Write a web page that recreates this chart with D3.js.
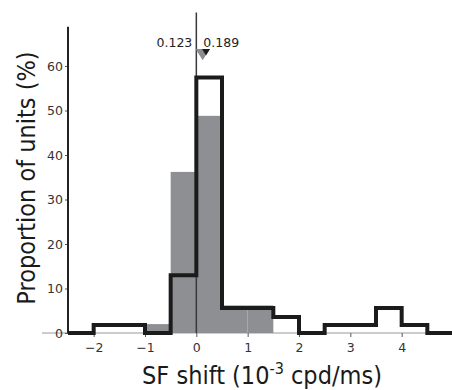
<!DOCTYPE html>
<html>
<head>
<meta charset="utf-8">
<script src="https://cdn.jsdelivr.net/npm/d3@7"></script>
<style>
  body { margin: 0; background: #fff; }
  svg { display: block; }
  text { font-family: "DejaVu Sans", sans-serif; }
  .title { font-family: "DejaVu Sans Condensed", "DejaVu Sans", sans-serif; }
</style>
</head>
<body>
<svg id="chart" width="452" height="390"></svg>
<script>
// bin edges of the SF shift histogram (10^-3 cpd/ms)
const binEdges = [-2.5, -2, -1.5, -1, -0.5, 0, 0.5, 1, 1.5, 2, 2.5, 3, 3.5, 4, 4.5, 5];
// proportion of units (%) per bin
const outlineValues = [0, 1.8, 1.8, 0, 13, 57.4, 5.6, 5.6, 3.6, 0, 1.8, 1.8, 5.6, 1.8, 0];
const filledValues = [0, 0, 0, 2, 36.2, 48.8, 6.2, 6.2, 0, 0, 0, 0, 0, 0, 0];
const xTicks = [-2, -1, 0, 1, 2, 3, 4];
const yTicks = [0, 10, 20, 30, 40, 50, 60];
// medians marked above the plot
const medians = [
  { value: 0.123, label: '0.123', color: '#8c8d90', size: 14, anchor: 'end' },
  { value: 0.189, label: '0.189', color: '#1c1c1c', size: 8, anchor: 'start' },
];

const svg = d3.select('#chart');

const x = d3.scaleLinear().domain([-2.5, 5]).range([68, 453]);
const y = d3.scaleLinear().domain([0, 60]).range([333, 66]);

const bins = outlineValues.map((v, i) => ({
  x0: binEdges[i],
  x1: binEdges[i + 1],
  outline: v,
  filled: filledValues[i],
}));

// x axis line (thin, runs under the outline)
svg
  .append('line')
  .attr('x1', 42)
  .attr('x2', 452)
  .attr('y1', y(0))
  .attr('y2', y(0))
  .attr('stroke', '#9a9a9a')
  .attr('stroke-width', 1.2);

// filled histogram
svg
  .append('g')
  .selectAll('rect')
  .data(bins.filter((b) => b.filled > 0))
  .enter()
  .append('rect')
  .attr('x', (b) => x(b.x0))
  .attr('width', (b) => x(b.x1) - x(b.x0))
  .attr('y', (b) => y(b.filled))
  .attr('height', (b) => y(0) - y(b.filled))
  .attr('fill', '#8e8f92');

// zero line
svg
  .append('line')
  .attr('x1', x(0))
  .attr('x2', x(0))
  .attr('y1', y(72))
  .attr('y2', y(0))
  .attr('stroke', '#3a3a3a')
  .attr('stroke-width', 1.5);

// y axis
const yAxis = svg
  .append('g')
  .attr('transform', `translate(${x(-2.5)},0)`)
  .call(d3.axisLeft(y).tickValues(yTicks).tickSize(3).tickPadding(2));
yAxis.select('.domain').remove();
yAxis
  .append('line')
  .attr('y1', y(68.8))
  .attr('y2', y(0))
  .attr('stroke', '#222')
  .attr('stroke-width', 2);
yAxis.selectAll('.tick line').attr('stroke', '#555');
yAxis
  .selectAll('.tick text')
  .attr('fill', '#333')
  .style('font-size', '12.5px');

// x axis
const xAxis = svg
  .append('g')
  .attr('transform', `translate(0,${y(0)})`)
  .call(
    d3
      .axisBottom(x)
      .tickValues(xTicks)
      .tickSize(4)
      .tickPadding(6)
      .tickFormat((d) => (d < 0 ? '\u2212' + Math.abs(d) : d))
  );
xAxis.select('.domain').remove();
xAxis.selectAll('.tick line').attr('stroke', '#555');
xAxis
  .selectAll('.tick text')
  .attr('fill', '#333')
  .style('font-size', '12.5px');

// outline histogram
const steps = bins.map((b) => [b.x0, b.outline]);
steps.push([bins[bins.length - 1].x1, bins[bins.length - 1].outline]);
svg
  .append('path')
  .datum(steps)
  .attr('fill', 'none')
  .attr('stroke', '#1b1b1b')
  .attr('stroke-width', 4)
  .attr('stroke-linejoin', 'miter')
  .attr(
    'd',
    d3
      .line()
      .x((d) => x(d[0]))
      .y((d) => y(d[1]))
      .curve(d3.curveStepAfter)
  );

// median markers
medians.forEach((m) => {
  const cx = x(m.value);
  const top = y(63.8);
  const h = m.size * 0.8;
  svg
    .append('path')
    .attr('d', `M${cx - m.size / 2},${top}L${cx + m.size / 2},${top}L${cx},${top + h}Z`)
    .attr('fill', m.color);
  svg
    .append('text')
    .attr('x', m.anchor === 'end' ? x(0) - 4 : x(0) + 7)
    .attr('y', y(64.3))
    .attr('text-anchor', m.anchor)
    .attr('fill', '#222')
    .style('font-size', '12.5px')
    .text(m.label);
});

// axis titles
svg
  .append('text')
  .attr('class', 'title')
  .attr('transform', `translate(35,178) rotate(-90)`)
  .attr('text-anchor', 'middle')
  .attr('fill', '#1a1a1a')
  .style('font-size', '25px')
  .text('Proportion of units (%)');

const xTitle = svg
  .append('text')
  .attr('class', 'title')
  .attr('x', 262)
  .attr('y', 384)
  .attr('text-anchor', 'middle')
  .attr('fill', '#1a1a1a')
  .style('font-size', '25px');
xTitle.append('tspan').text('SF shift (10');
xTitle.append('tspan').attr('dy', -10).style('font-size', '16px').text('-3');
xTitle.append('tspan').attr('dy', 10).text(' cpd/ms)');
</script>
</body>
</html>
